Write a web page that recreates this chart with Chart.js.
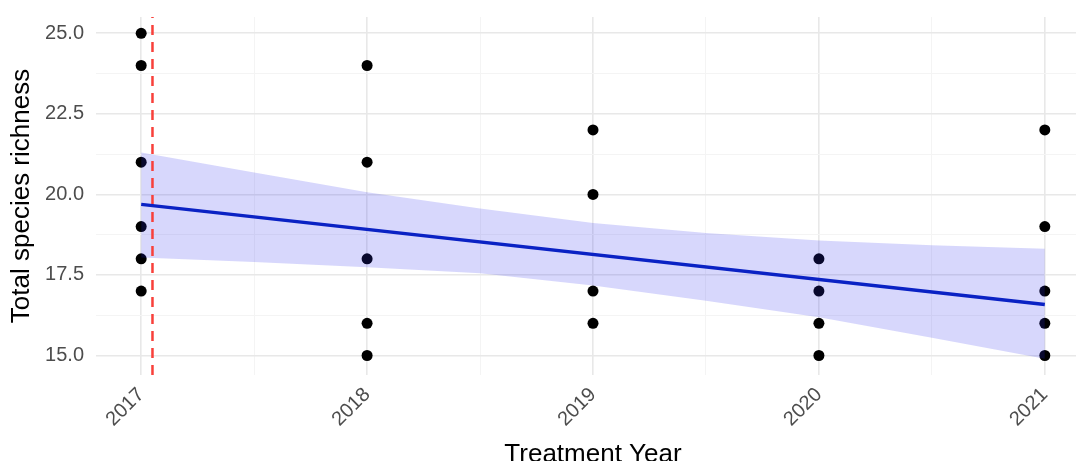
<!DOCTYPE html>
<html>
<head>
<meta charset="utf-8">
<script src="https://cdn.jsdelivr.net/npm/chart.js@4.4.1/dist/chart.umd.min.js"></script>
<style>
  html, body { margin: 0; padding: 0; background: #fff; overflow: hidden; }
  #wrap { width: 1100px; height: 470px; }
</style>
</head>
<body>
<div id="wrap"><canvas id="richChart" width="1100" height="470"></canvas></div>
<script>
// observed plots per treatment year
const obsYear =     [2017, 2017, 2017, 2017, 2017, 2017, 2018, 2018, 2018, 2018, 2018, 2019, 2019, 2019, 2019, 2020, 2020, 2020, 2020, 2021, 2021, 2021, 2021, 2021];
const obsRichness = [25,   24,   21,   19,   18,   17,   24,   21,   18,   16,   15,   22,   20,   17,   16,   18,   17,   16,   15,   22,   19,   17,   16,   15];

// linear fit + confidence band
const fitYears  = [2017, 2021];
const fitValues = [19.69, 16.58];
const bandYears = [2017, 2017.5, 2018, 2018.5, 2019, 2019.5, 2020, 2020.5, 2021];
const bandUpper = [21.30, 20.68, 20.07, 19.56, 19.11, 18.80, 18.57, 18.42, 18.31];
const bandLower = [18.04, 17.90, 17.74, 17.55, 17.17, 16.70, 16.19, 15.55, 14.90];

// treatment start marker
const treatmentStart = 2017.05;

// axis ticks
const xMajor = [2017, 2018, 2019, 2020, 2021];
const xMinor = [2017.5, 2018.5, 2019.5, 2020.5];
const yMajor = [15, 17.5, 20, 22.5, 25];
const yMinor = [16.25, 18.75, 21.25, 23.75];

const xRange = [2016.8, 2021.2];
const yRange = [14.395, 25.505];

const pts = (xs, ys) => xs.map((x, i) => ({ x: x, y: ys[i] }));

const tickFont = { family: 'Liberation Sans, Arial, sans-serif', size: 20 };
const titleFont = { family: 'Liberation Sans, Arial, sans-serif', size: 26, lineHeight: 1 };

function gridColor(majors) {
  return (c) => (c.tick && majors.includes(c.tick.value)) ? '#e8e8e8' : '#f4f4f4';
}
function gridWidth(majors) {
  return (c) => (c.tick && majors.includes(c.tick.value)) ? 1.6 : 1;
}

new Chart(document.getElementById('richChart'), {
  type: 'scatter',
  data: {
    datasets: [
      {
        label: 'fit',
        data: pts(fitYears, fitValues),
        showLine: true,
        borderColor: '#0a22c4',
        borderWidth: 3.5,
        pointRadius: 0,
        order: 0
      },
      {
        label: 'treatment',
        data: [{ x: treatmentStart, y: yRange[0] }, { x: treatmentStart, y: yRange[1] }],
        showLine: true,
        borderColor: '#f8403a',
        borderWidth: 2.5,
        borderDash: [10, 7],
        pointRadius: 0,
        order: 1
      },
      {
        label: 'upper',
        data: pts(bandYears, bandUpper),
        showLine: true,
        borderWidth: 0,
        borderColor: 'rgba(0,0,0,0)',
        backgroundColor: 'rgba(40,40,240,0.19)',
        fill: '+1',
        pointRadius: 0,
        order: 2
      },
      {
        label: 'lower',
        data: pts(bandYears, bandLower),
        showLine: true,
        borderWidth: 0,
        borderColor: 'rgba(0,0,0,0)',
        pointRadius: 0,
        order: 3
      },
      {
        label: 'plots',
        data: pts(obsYear, obsRichness),
        backgroundColor: '#000',
        borderColor: '#000',
        pointRadius: 5.5,
        borderWidth: 0,
        order: 4
      }
    ]
  },
  options: {
    responsive: false,
    animation: false,
    devicePixelRatio: 1,
    layout: { padding: { top: 17, right: 10, left: 0, bottom: 2 } },
    plugins: { legend: { display: false }, tooltip: { enabled: false } },
    scales: {
      x: {
        type: 'linear',
        min: xRange[0],
        max: xRange[1],
        afterBuildTicks: (s) => { s.ticks = xMajor.concat(xMinor).sort().map(v => ({ value: v })); },
        afterFit: (s) => { s.height = 93; s.paddingLeft = 0; s.paddingRight = 0; },
        border: { display: false },
        grid: { color: gridColor(xMajor), lineWidth: gridWidth(xMajor), drawTicks: false },
        ticks: {
          autoSkip: false,
          minRotation: 45,
          maxRotation: 45,
          padding: 8,
          color: '#4d4d4d',
          font: tickFont,
          callback: (v) => xMajor.includes(v) ? String(v) : ''
        },
        title: { display: true, text: 'Treatment Year', color: '#000', font: titleFont, padding: { top: 0, bottom: 0 } }
      },
      y: {
        min: yRange[0],
        max: yRange[1],
        afterBuildTicks: (s) => { s.ticks = yMajor.concat(yMinor).sort((a, b) => a - b).map(v => ({ value: v })); },
        afterFit: (s) => { s.width = 96; s.paddingTop = 0; s.paddingBottom = 0; },
        border: { display: false },
        grid: { color: gridColor(yMajor), lineWidth: gridWidth(yMajor), drawTicks: false },
        ticks: {
          padding: 12,
          color: '#4d4d4d',
          font: tickFont,
          callback: (v) => yMajor.includes(v) ? v.toFixed(1) : ''
        },
        title: { display: true, text: 'Total species richness', color: '#000', font: titleFont, padding: { top: 9, bottom: 0 } }
      }
    }
  }
});
</script>
</body>
</html>
